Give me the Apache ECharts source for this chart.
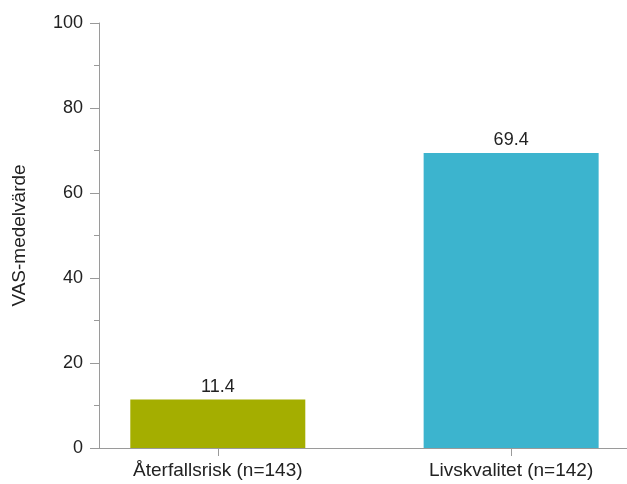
<!DOCTYPE html>
<html>
<head>
<meta charset="utf-8">
<script src="https://cdn.jsdelivr.net/npm/echarts@6/dist/echarts.min.js"></script>
<style>html,body{margin:0;padding:0;background:#fff}#c{width:627px;height:484px}</style>
</head>
<body>
<div id="c"></div>
<script>
const categories = ['Återfallsrisk (n=143)', 'Livskvalitet (n=142)'];
const values = [11.4, 69.4];
const colors = ['#A4AE00', '#3CB4CE'];
const yTicks = [0, 20, 40, 60, 80, 100];
const yName = 'VAS-medelvärde';

const positions = categories.map((c, i) => i + 1);
const font = '"Liberation Sans", Arial, Helvetica, sans-serif';
const axisColor = '#9a9a9a';
const textColor = '#222';

const chart = echarts.init(document.getElementById('c'), null, {renderer: 'canvas'});
chart.setOption({
  animation: false,
  backgroundColor: '#fff',
  grid: {left: 99, top: 23, width: 531, height: 425, containLabel: false},
  xAxis: {
    type: 'value',
    min: 0.595,
    max: 2.395,
    axisLine: {show: true, lineStyle: {color: axisColor, width: 1}},
    axisTick: {show: true, length: 8, lineStyle: {color: axisColor}, customValues: positions},
    axisLabel: {
      show: true, margin: 13, fontSize: 19, color: textColor, fontFamily: font,
      customValues: positions,
      formatter: v => categories[Math.round(v) - 1] || ''
    },
    splitLine: {show: false}
  },
  yAxis: {
    type: 'value',
    min: yTicks[0],
    max: yTicks[yTicks.length - 1],
    interval: yTicks[1] - yTicks[0],
    name: yName,
    nameLocation: 'middle',
    nameGap: 70,
    nameTextStyle: {fontSize: 19, color: textColor, fontFamily: font},
    axisLine: {show: true, lineStyle: {color: axisColor, width: 1}},
    axisTick: {show: true, length: 9, lineStyle: {color: axisColor}},
    minorTick: {show: true, splitNumber: 2, length: 5, lineStyle: {color: axisColor}},
    axisLabel: {margin: 16, fontSize: 18, color: textColor, fontFamily: font},
    splitLine: {show: false},
    minorSplitLine: {show: false}
  },
  series: [{
    type: 'bar',
    barWidth: 175,
    data: values.map((v, i) => ({value: [positions[i], v], itemStyle: {color: colors[i]}})),
    label: {
      show: true, position: 'top', distance: 4,
      fontSize: 18, color: textColor, fontFamily: font,
      formatter: p => p.value[1].toFixed(1)
    }
  }]
});
</script>
</body>
</html>
